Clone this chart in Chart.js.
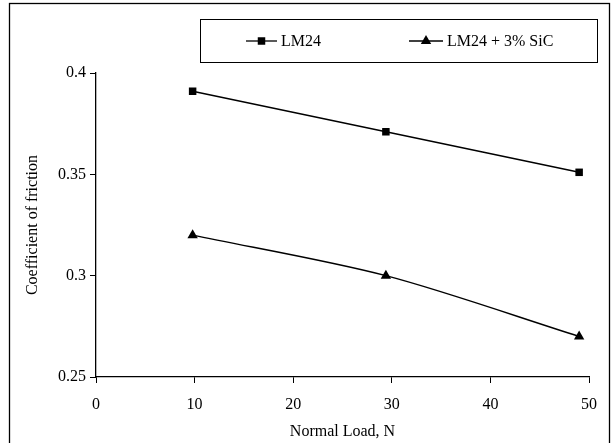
<!DOCTYPE html>
<html>
<head>
<meta charset="utf-8">
<script src="https://cdn.jsdelivr.net/npm/chart.js@4.4.0/dist/chart.umd.min.js"></script>
<style>
  html, body { margin: 0; padding: 0; background: #fff; }
  #wrap { width: 613px; height: 443px; position: relative; }
</style>
</head>
<body>
<div id="wrap"><canvas id="c" width="613" height="443"></canvas></div>
<script>
// ---- data ----
const loads = [9.8, 29.4, 49.0];
const lm24 = [0.391, 0.371, 0.351];
const lm24SiC = [0.320, 0.300, 0.270];
const seriesLabels = ['LM24', 'LM24 + 3% SiC'];
const xTicks = [0, 10, 20, 30, 40, 50];
const yTicks = [0.25, 0.3, 0.35, 0.4];
const xTitle = 'Normal Load, N';
const yTitle = 'Coefficient of friction';

const FONT = 'Liberation Serif, Times New Roman, serif';
const FS = 16;

const toPts = (xs, ys) => xs.map((x, i) => ({x: x, y: ys[i]}));

const frame = {
  id: 'frame',
  beforeDraw(chart) {
    const ctx = chart.ctx;
    ctx.save();
    ctx.fillStyle = '#fff';
    ctx.fillRect(0, 0, chart.width, chart.height);
    ctx.restore();
  },
  afterDraw(chart) {
    const ctx = chart.ctx;
    ctx.save();
    ctx.strokeStyle = '#000';
    ctx.lineWidth = 1.3;
    ctx.strokeRect(9.5, 3.5, 600, 450);
    // legend box
    const bx = 200.5, by = 19.5, bw = 397, bh = 43;
    ctx.lineWidth = 1;
    ctx.strokeRect(bx, by, bw, bh);
    const cy = by + bh / 2;
    const items = [
      {x0: 246, x1: 277, tx: 281},
      {x0: 409, x1: 443, tx: 447}
    ];
    chart.data.datasets.forEach((ds, i) => {
      const it = items[i];
      ctx.strokeStyle = '#000';
      ctx.lineWidth = 1.3;
      ctx.beginPath();
      ctx.moveTo(it.x0, cy);
      ctx.lineTo(it.x1, cy);
      ctx.stroke();
      ctx.save();
      ctx.fillStyle = '#000';
      ctx.beginPath();
      const r = ds.pointRadius;
      const mx = (it.x0 + it.x1) / 2;
      if (ds.pointStyle === 'rect') {
        const s = Math.SQRT1_2 * r;
        ctx.fillRect(mx - s, cy - s, 2 * s, 2 * s);
      } else {
        ctx.moveTo(mx, cy - r);
        ctx.lineTo(mx + Math.cos(Math.PI / 6) * r, cy + r / 2);
        ctx.lineTo(mx - Math.cos(Math.PI / 6) * r, cy + r / 2);
        ctx.closePath();
        ctx.fill();
      }
      ctx.restore();
      ctx.fillStyle = '#000';
      ctx.font = FS + 'px ' + FONT;
      ctx.textBaseline = 'middle';
      ctx.textAlign = 'left';
      ctx.fillText(ds.label, it.tx, cy + 1);
    });
    ctx.restore();
  }
};

new Chart(document.getElementById('c'), {
  type: 'line',
  data: {
    datasets: [
      {
        label: seriesLabels[0],
        data: toPts(loads, lm24),
        borderColor: '#000',
        backgroundColor: '#000',
        borderWidth: 1.4,
        pointStyle: 'rect',
        pointRadius: 5.3,
        pointBorderWidth: 0,
        tension: 0.3,
        clip: false
      },
      {
        label: seriesLabels[1],
        data: toPts(loads, lm24SiC),
        borderColor: '#000',
        backgroundColor: '#000',
        borderWidth: 1.4,
        pointStyle: 'triangle',
        pointRadius: 6,
        pointBorderWidth: 0,
        tension: 0.3,
        clip: false
      }
    ]
  },
  options: {
    responsive: false,
    animation: false,
    devicePixelRatio: 1,
    layout: { padding: { left: 0, top: 73, right: 24, bottom: 0 } },
    plugins: { legend: { display: false }, tooltip: { enabled: false } },
    scales: {
      x: {
        type: 'linear',
        min: 0, max: 50,
        afterFit(s) { s.height = 66; },
        afterBuildTicks(s) { s.ticks = xTicks.map(v => ({value: v})); },
        grid: { display: true, drawOnChartArea: false, drawTicks: true, tickLength: 6, color: '#000', lineWidth: 1 },
        border: { display: true, color: '#000', width: 1.3 },
        ticks: { color: '#000', font: { family: FONT, size: FS }, padding: 12, maxRotation: 0,
                 callback: v => String(v) },
        title: { display: true, text: xTitle, color: '#000', font: { family: FONT, size: FS }, padding: { top: 0, bottom: 2 } }
      },
      y: {
        type: 'linear',
        min: 0.25, max: 0.4,
        afterFit(s) { s.width = 96; },
        afterBuildTicks(s) { s.ticks = yTicks.map(v => ({value: v})); },
        grid: { display: true, drawOnChartArea: false, drawTicks: true, tickLength: 6, color: '#000', lineWidth: 1 },
        border: { display: true, color: '#000', width: 1.3 },
        ticks: { color: '#000', font: { family: FONT, size: FS }, padding: 4,
                 callback: v => String(+Number(v).toFixed(2)) },
        title: { display: true, text: yTitle, color: '#000', font: { family: FONT, size: FS }, padding: { top: 23, bottom: 0 } }
      }
    }
  },
  plugins: [frame]
});
</script>
</body>
</html>
